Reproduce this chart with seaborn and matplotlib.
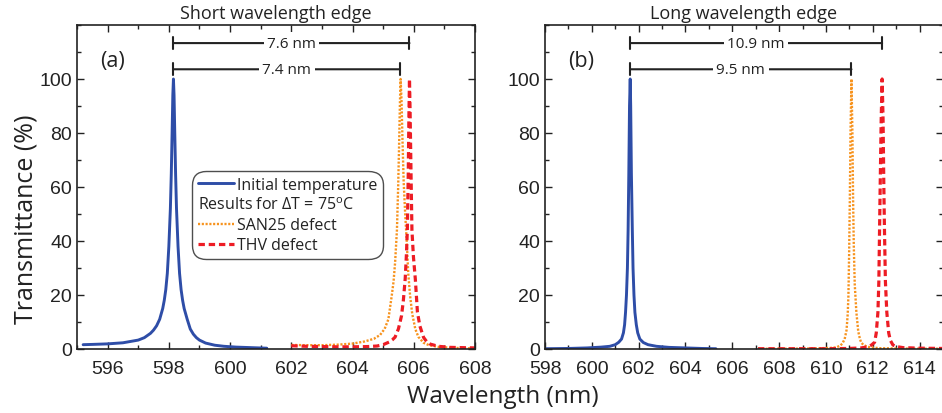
import numpy as np
import pandas as pd
import matplotlib
matplotlib.use("Agg")
import matplotlib.pyplot as plt
from matplotlib.lines import Line2D
from matplotlib.ticker import MultipleLocator
import seaborn as sns

# ---- data ----
# (a) short wavelength edge
a_init_wl = [595.2, 595.5, 596.0, 596.5, 597.0, 597.2, 597.4, 597.5, 597.6, 597.7, 597.8, 597.85,
             597.9, 597.95, 598.0, 598.05, 598.08, 598.11, 598.13, 598.15, 598.17, 598.19, 598.22,
             598.25, 598.3, 598.35, 598.4, 598.45, 598.5, 598.6, 598.7, 598.8, 598.9, 599.0, 599.2,
             599.5, 599.8, 600.2, 600.7, 601.2]
a_init_t = [1.6, 1.7, 1.9, 2.3, 3.3, 4.2, 5.8, 7.0, 8.6, 11, 15, 18,
            22, 28, 38, 52, 65, 82, 94, 100, 94, 82, 65,
            52, 38, 28, 22, 18, 15, 11, 7.4, 5.5, 4.2, 3.3, 2.2,
            1.4, 1.0, 0.7, 0.5, 0.3]
a_san_wl = [602.0, 602.5, 603.0, 603.5, 604.0, 604.4, 604.7, 604.9, 605.05, 605.17, 605.28, 605.34,
            605.39, 605.45, 605.49, 605.52, 605.55, 605.57, 605.6, 605.63, 605.67, 605.72, 605.77,
            605.82, 605.88, 605.95, 606.05, 606.15, 606.32, 606.5, 606.8, 607.2, 607.6, 608.0]
a_san_t = [1.5, 1.4, 1.4, 1.6, 2.0, 2.8, 3.8, 5.2, 7.5, 11, 19.7, 25,
           32, 44, 60, 75, 92, 100, 92, 78, 62, 50, 40,
           28, 19.7, 13, 7.4, 4.5, 2.3, 1.4, 0.8, 0.5, 0.3, 0.2]
a_thv_wl = [602.0, 602.5, 603.0, 603.5, 604.0, 604.5, 604.8, 605.0, 605.2, 605.3, 605.39, 605.5,
            605.6, 605.66, 605.72, 605.76, 605.79, 605.82, 605.84, 605.86, 605.88, 605.91, 605.94,
            605.99, 606.05, 606.12, 606.2, 606.32, 606.43, 606.54, 606.8, 607.2, 607.6, 608.0]
a_thv_t = [1.2, 1.0, 0.9, 0.8, 0.8, 0.9, 1.1, 1.6, 2.6, 3.4, 4.4, 7.5,
           12.3, 18, 26, 35, 44, 65, 85, 100, 88, 65, 44,
           34, 26, 13.6, 8.5, 4.3, 2.6, 1.8, 1.0, 0.6, 0.5, 0.4]

# (b) long wavelength edge
b_init_wl = [598.0, 599.0, 599.8, 600.4, 600.77, 601.0, 601.15, 601.27, 601.35, 601.4, 601.44,
             601.48, 601.52, 601.55, 601.58, 601.61, 601.64, 601.66, 601.69, 601.73, 601.76, 601.8,
             601.84, 601.9, 601.96, 602.05, 602.2, 602.4, 602.76, 603.3, 604.0, 604.7, 605.3]
b_init_t = [0.1, 0.2, 0.4, 0.7, 1.0, 1.6, 2.5, 3.7, 6.0, 9, 13.6,
            20, 30, 44, 65, 90, 100, 90, 65, 44, 30, 20,
            13.6, 9, 6, 3.7, 2.4, 1.6, 1.0, 0.6, 0.4, 0.2, 0.1]
b_san_wl = [607.1, 608.0, 609.0, 609.8, 610.2, 610.44, 610.6, 610.7, 610.8, 610.88, 610.93,
            610.96, 610.99, 611.02, 611.05, 611.09, 611.13, 611.16, 611.19, 611.23, 611.3, 611.38,
            611.45, 611.5, 611.6, 611.75, 611.9, 612.3, 613.0, 614.0, 615.0]
b_san_t = [0.1, 0.1, 0.15, 0.3, 0.4, 0.6, 1.2, 2.0, 3.7, 7, 13,
           19.7, 35, 55, 80, 100, 80, 55, 38, 24, 13.6, 6.5,
           3.8, 2.5, 1.5, 0.9, 0.6, 0.3, 0.2, 0.1, 0.1]
b_thv_wl = [607.1, 608.5, 610.0, 611.0, 611.5, 611.8, 611.95, 612.08, 612.15, 612.22, 612.26,
            612.29, 612.32, 612.36, 612.4, 612.44, 612.47, 612.5, 612.54, 612.6, 612.68, 612.75,
            612.86, 613.0, 613.3, 614.0, 615.0]
b_thv_t = [0.1, 0.1, 0.1, 0.2, 0.4, 0.8, 1.5, 2.5, 6, 13.6, 25,
           44, 62, 85, 100, 85, 62, 44, 25, 13.6, 6, 3.2,
           1.5, 0.9, 0.5, 0.3, 0.2]

a_peaks = [598.15, 605.55, 605.86]
b_peaks = [601.64, 611.09, 612.4]
a_shift_labels = ["7.6 nm", "7.4 nm"]
b_shift_labels = ["10.9 nm", "9.5 nm"]
bar_levels = [113.3, 103.6]

BLUE = "#2e4da7"
ORANGE = "#f7931e"
RED = "#ed1c24"
INK = "#222222"
DOTS = (0, (0.9, 0.7))
DASHES = (0, (2.0, 1.2))

sns.set_theme(style="ticks")
plt.rcParams["font.family"] = ["Open Sans", "DejaVu Sans"]
plt.rcParams["mathtext.fontset"] = "custom"
plt.rcParams["mathtext.rm"] = "Open Sans"

fig = plt.figure(figsize=(9.42, 4.14), dpi=100)
ax1 = fig.add_axes([77 / 942, 64 / 414, 398 / 942, 324 / 414])
ax2 = fig.add_axes([545 / 942, 64 / 414, 398 / 942, 324 / 414])


def draw_panel(ax, init, san, thv):
    df_i = pd.DataFrame({"wl": init[0], "t": init[1]})
    df_s = pd.DataFrame({"wl": san[0], "t": san[1]})
    df_t = pd.DataFrame({"wl": thv[0], "t": thv[1]})
    sns.lineplot(data=df_i, x="wl", y="t", ax=ax, color=BLUE, lw=2.1, estimator=None)
    sns.lineplot(data=df_s, x="wl", y="t", ax=ax, color=ORANGE, lw=1.7, estimator=None,
                 linestyle=DOTS)
    sns.lineplot(data=df_t, x="wl", y="t", ax=ax, color=RED, lw=2.3, estimator=None,
                 linestyle=DASHES)


def shift_bars(ax, peaks, labels):
    ends = [peaks[2], peaks[1]]
    for end, lab, lev in zip(ends, labels, bar_levels):
        ax.annotate("", xy=(end, lev), xytext=(peaks[0], lev),
                    arrowprops=dict(arrowstyle="|-|,widthA=0.35,widthB=0.35",
                                    color=INK, lw=1.5, shrinkA=0, shrinkB=0))
        ax.text((peaks[0] + end) / 2, lev, lab, ha="center", va="center", fontsize=11,
                color=INK, bbox=dict(fc="white", ec="none", pad=2.5))


def style_axes(ax, xlim, xmaj):
    ax.set_xlim(*xlim)
    ax.set_ylim(0, 120)
    ax.set_yticks([0, 20, 40, 60, 80, 100])
    ax.xaxis.set_major_locator(MultipleLocator(xmaj))
    ax.xaxis.set_minor_locator(MultipleLocator(xmaj / 2))
    ax.yaxis.set_minor_locator(MultipleLocator(10))
    ax.tick_params(which="both", direction="in", top=True, right=True, color=INK,
                   labelsize=14, labelcolor=INK, width=1.0)
    ax.tick_params(which="major", length=5)
    ax.tick_params(which="minor", length=3)
    ax.tick_params(axis="x", which="major", pad=8)
    for lab in ax.get_xticklabels() + ax.get_yticklabels():
        lab.set_family(["Liberation Sans", "DejaVu Sans"])
    for sp in ax.spines.values():
        sp.set_color(INK)
        sp.set_linewidth(1.2)
    ax.set_xlabel("")
    ax.set_ylabel("")


draw_panel(ax1, (a_init_wl, a_init_t), (a_san_wl, a_san_t), (a_thv_wl, a_thv_t))
draw_panel(ax2, (b_init_wl, b_init_t), (b_san_wl, b_san_t), (b_thv_wl, b_thv_t))
style_axes(ax1, (595, 608), 2)
style_axes(ax2, (598, 615), 2)
shift_bars(ax1, a_peaks, a_shift_labels)
shift_bars(ax2, b_peaks, b_shift_labels)

ax1.set_title("Short wavelength edge", fontsize=13, pad=5, color=INK)
ax2.set_title("Long wavelength edge", fontsize=13, pad=5, color=INK)
ax1.text(0.058, 0.889, "(a)", transform=ax1.transAxes, fontsize=15.5, color=INK,
         ha="left", va="center")
ax2.text(0.058, 0.889, "(b)", transform=ax2.transAxes, fontsize=15.5, color=INK,
         ha="left", va="center")

handles = [Line2D([], [], color=BLUE, lw=2.1),
           Line2D([], [], color="none"),
           Line2D([], [], color=ORANGE, lw=1.7, linestyle=DOTS),
           Line2D([], [], color=RED, lw=2.3, linestyle=DASHES)]
labels = ["Initial temperature", r"Results for $\Delta$T = 75$^\mathregular{o}$C",
          "SAN25 defect", "THV defect"]
leg = ax1.legend(handles, labels, loc="upper left", bbox_to_anchor=(0.289, 0.549),
                 fontsize=11.5, frameon=True, fancybox=True, handlelength=2.3,
                 handletextpad=0.15, borderpad=0.35, labelspacing=0.25, borderaxespad=0)
leg.get_frame().set_edgecolor(INK)
leg.get_frame().set_linewidth(1.0)
leg.get_frame().set_boxstyle("round", pad=0.0, rounding_size=0.9)
for t in leg.get_texts():
    t.set_color(INK)
# pull the "Results for" row to the left edge (no handle)
row = leg._legend_handle_box.get_children()[0].get_children()[1]
row.get_children()[0].width = 0
row.sep = 0

fig.text(0.028, 0.471, "Transmittance (%)", rotation=90, ha="center",
         va="center", fontsize=18, color=INK)
fig.text(503 / 942, 0.042, "Wavelength (nm)", ha="center", va="center", fontsize=17.5,
         color=INK)

fig.savefig("out.png", dpi=100)
